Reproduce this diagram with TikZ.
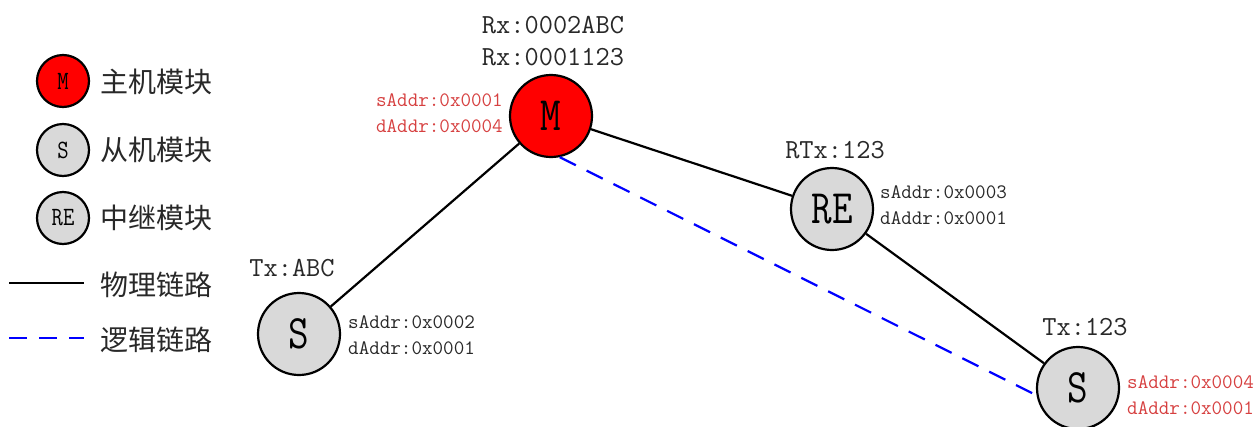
\documentclass[tikz,border=0pt]{standalone}
\usepackage{fontspec}
\newfontfamily\cjk{Noto Sans CJK SC}
\usetikzlibrary{positioning}
\definecolor{addrred}{RGB}{214,64,64}
\definecolor{nodegray}{RGB}{217,217,217}
\definecolor{txtgray}{RGB}{40,40,40}
\newcommand\tallname[1]{\scalebox{1}[1.2]{#1}}

\begin{document}
\begin{tikzpicture}[x=1pt,y=-1pt,
  module/.style={circle,draw=black,line width=2.2pt,inner sep=0pt,minimum size=82pt,
    font=\ttfamily\fontsize{40}{40}\selectfont},
  small module/.style={module,minimum size=52pt,font=\ttfamily\fontsize{22}{22}\selectfont},
  master/.style={fill=red},
  slave/.style={fill=nodegray},
  tag/.style={font=\ttfamily\fontsize{27.6}{32}\selectfont,text=txtgray,align=center,inner sep=0pt},
  addr/.style={font=\ttfamily\fontsize{20.5}{26}\selectfont,text=txtgray,align=left,inner sep=0pt},
  legend/.style={font=\cjk\fontsize{28}{28}\selectfont,text=txtgray,anchor=west,inner sep=0pt},
  phys/.style={line width=2.2pt},
  logic/.style={line width=2.2pt,blue,dash pattern=on 18pt off 12pt}]

\useasboundingbox (0,0) rectangle (1258,426);

% legend
\node[small module,master] (lm) at (63,81) {\tallname{M}};
\node[legend] (lmt) at (100,82) {主机模块};
\node[small module,slave] (ls) at (63,150) {\tallname{S}};
\node[legend] (lst) at (100,150) {从机模块};
\node[small module,slave] (lre) at (63,218) {\tallname{RE}};
\node[legend] (lret) at (100,218) {中继模块};
\coordinate (lp1) at (9,283);
\coordinate (lp2) at (84,283);
\draw[phys] (lp1) -- (lp2);
\node[legend] (lpt) at (100,285) {物理链路};
\coordinate (ll1) at (9,338);
\coordinate (ll2) at (84,338);
\draw[logic] (ll1) -- (ll2);
\node[legend] (llt) at (100,340) {逻辑链路};

% modules
\node[module,master] (m) at (551,116) {\tallname{M}};
\node[module,slave] (re) at (832,209) {\tallname{RE}};
\node[module,slave] (s1) at (299,334) {\tallname{S}};
\node[module,slave] (s2) at (1078,388) {\tallname{S}};

\draw[phys] (s1) -- (m);
\draw[phys] (m) -- (re);
\draw[phys] (re) -- (s2);
\draw[logic] (m.-78) -- (s2.190);

% labels
\node[tag] (mrx) at (553,41) {Rx:0002ABC\\Rx:0001123};
\node[addr,text=addrred,anchor=east] (madr) at (503,113) {sAddr:0x0001\\dAddr:0x0004};
\node[tag] (retx) at (835,150) {RTx:123};
\node[addr,anchor=west] (readr) at (880,205) {sAddr:0x0003\\dAddr:0x0001};
\node[tag] (s1tx) at (292,268) {Tx:ABC};
\node[addr,anchor=west] (s1adr) at (348,335) {sAddr:0x0002\\dAddr:0x0001};
\node[tag] (s2tx) at (1085,327) {Tx:123};
\node[addr,text=addrred,anchor=west] (s2adr) at (1127,395) {sAddr:0x0004\\dAddr:0x0001};

\end{tikzpicture}
\end{document}
